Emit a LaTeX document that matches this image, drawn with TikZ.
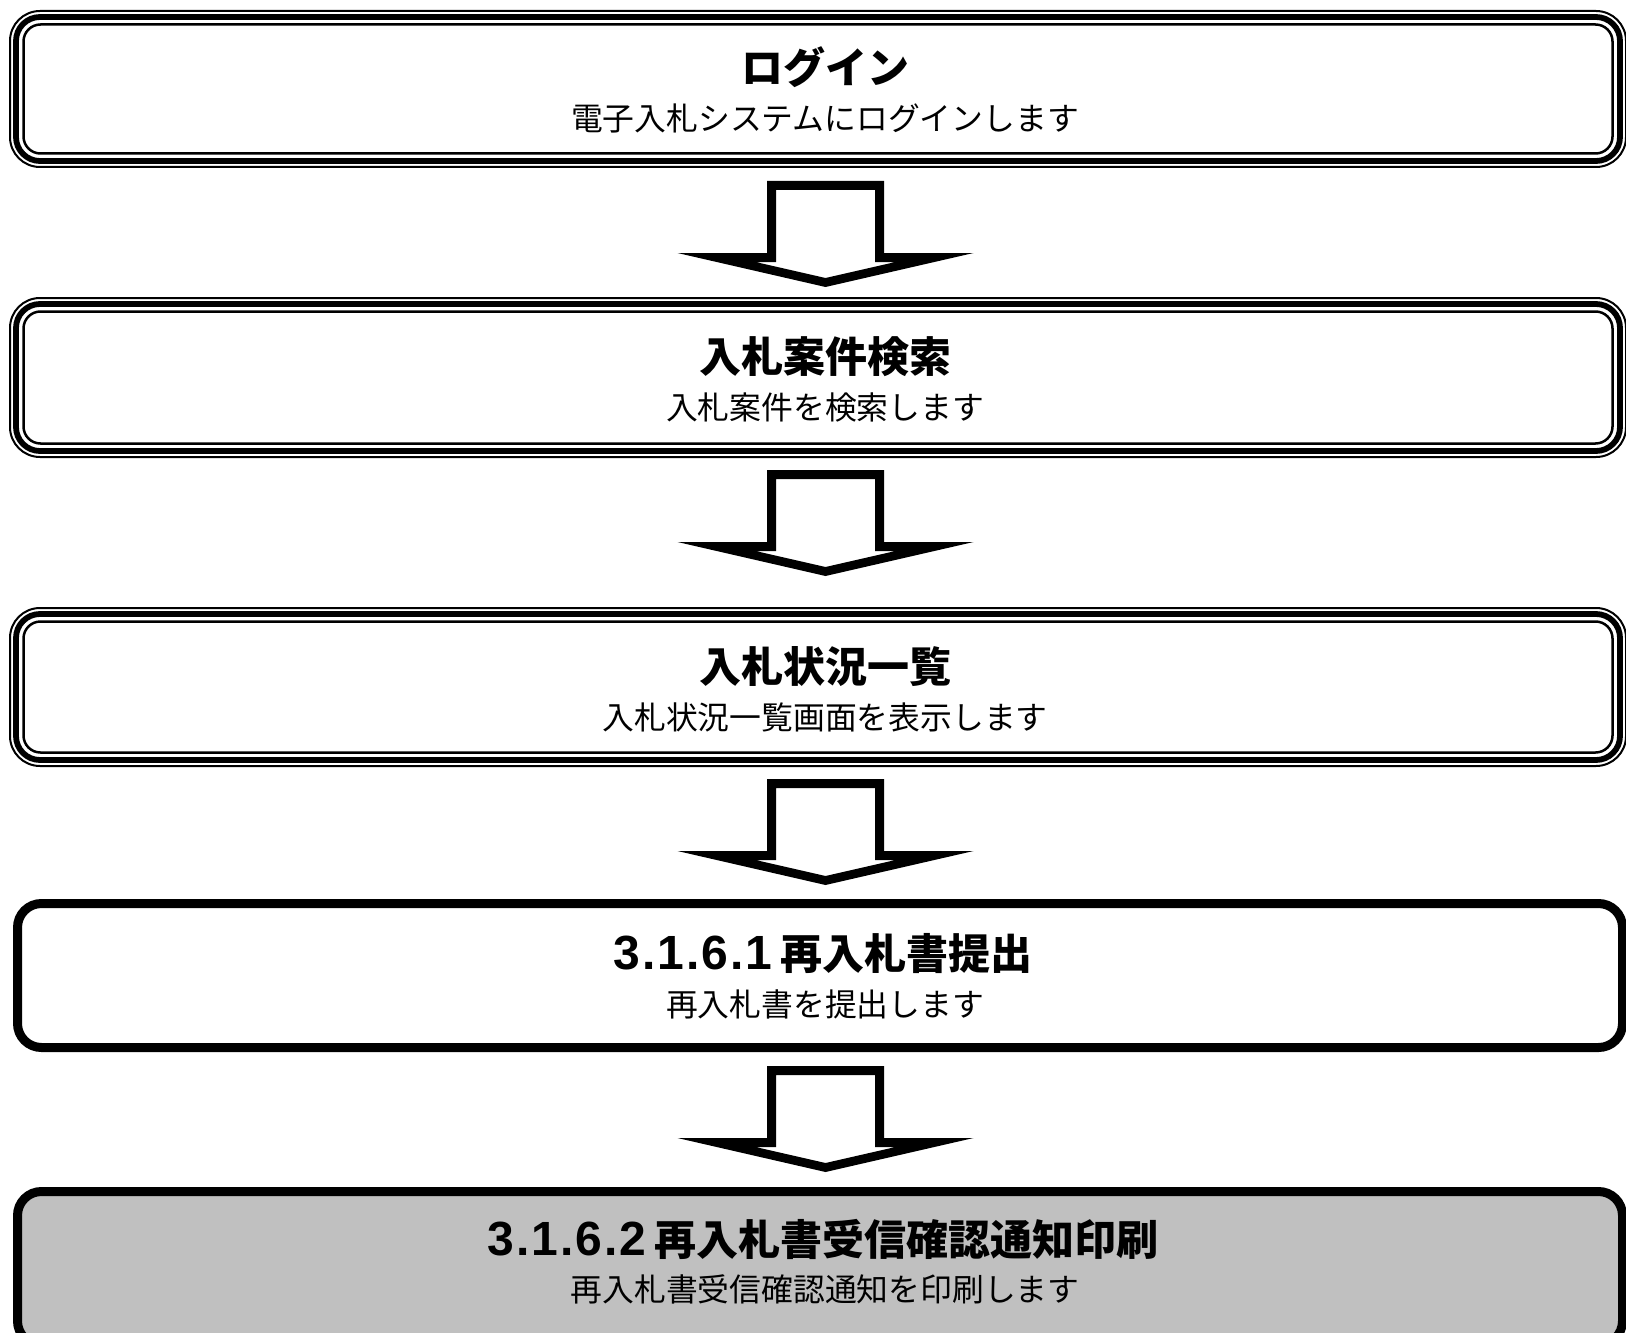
\documentclass[tikz,border=0pt]{standalone}
\usepackage{fontspec}
\newfontfamily\jp{Noto Sans CJK JP}
\newfontfamily\lat[LetterSpace=4]{Liberation Sans}
\definecolor{boxgray}{HTML}{C0C0C0}
\newcommand\tripbox[2]{% top, bottom (outer edges)
  \draw[line width=1pt, rounded corners=15pt] (10,#1+1) rectangle (1626,#2-1);
  \draw[line width=2.9pt, rounded corners=12pt] (16,#1+7) rectangle (1620,#2-7);
  \draw[line width=1.25pt, rounded corners=8.5pt] (23.5,#1+14.5) rectangle (1612.5,#2-14.5);
}
\newcommand\nums[1]{{\lat\bfseries\fontsize{24pt}{26pt}\selectfont #1}\hspace{4pt}}
\tikzset{
  titletext/.style={anchor=base, inner sep=0pt, font=\jp\bfseries\fontsize{21pt}{23pt}\selectfont},
  subtext/.style={anchor=base, inner sep=0pt, font=\jp\fontsize{15.9pt}{18pt}\selectfont},
  singlebox/.style={line width=4.5pt, rounded corners=12pt},
  blockarrow/.pic={
    \fill[black, even odd rule]
      (-58.5,0) -- (58.5,0) -- (58.5,72) -- (148,72) -- (0,106) -- (-148,72) -- (-58.5,72) -- cycle
      (-49.5,9) -- (49.5,9) -- (49.5,81) -- (70,81) -- (0,97) -- (-70,81) -- (-49.5,81) -- cycle;
  }
}
\begin{document}
\begin{tikzpicture}[x=0.5pt, y=-0.5pt]
\useasboundingbox (0,0) rectangle (1626,1332);
\fill[white] (0,0) rectangle (1626,1332);
\clip (0,0) rectangle (1626,1332);

% boxes
\tripbox{10}{168}
\tripbox{297}{458}
\tripbox{607}{767}
\draw[singlebox, fill=white] (17.5,903.5) rectangle (1622.5,1047.5);
\draw[singlebox, fill=boxgray] (17.5,1191.5) rectangle (1622.5,1345);

% texts
\node[titletext] (t1) at (825,84) {ログイン};
\node[subtext] (s1) at (825,131) {電子入札システムにログインします};
\node[titletext] (t2) at (825,372) {入札案件検索};
\node[subtext] (s2) at (825,419) {入札案件を検索します};
\node[titletext] (t3) at (825,682) {入札状況一覧};
\node[subtext] (s3) at (825,729) {入札状況一覧画面を表示します};
\node[titletext] (t4) at (823,969) {\nums{3.1.6.1}再入札書提出};
\node[subtext] (s4) at (825,1016) {再入札書を提出します};
\node[titletext] (t5) at (823,1255) {\nums{3.1.6.2}再入札書受信確認通知印刷};
\node[subtext] (s5) at (825,1301) {再入札書受信確認通知を印刷します};

% block arrows
\coordinate (a1) at (825.5,181);
\coordinate (a2) at (825.5,470);
\coordinate (a3) at (825.5,779);
\coordinate (a4) at (825.5,1066);
\pic at (a1) {blockarrow};
\pic at (a2) {blockarrow};
\pic at (a3) {blockarrow};
\pic at (a4) {blockarrow};
\end{tikzpicture}
\end{document}
